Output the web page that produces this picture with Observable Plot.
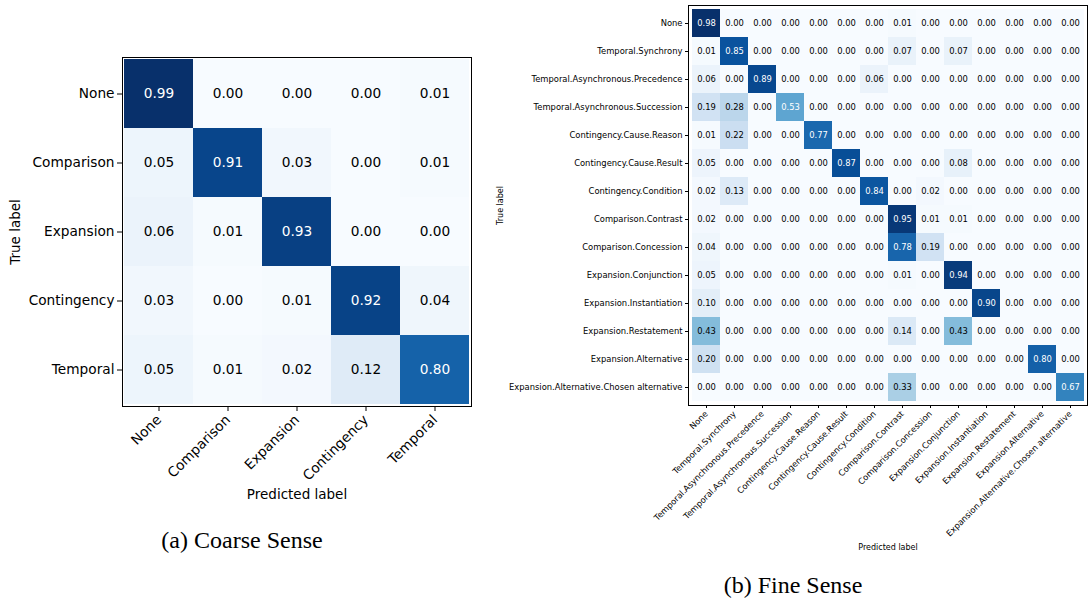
<!DOCTYPE html>
<html>
<head>
<meta charset="utf-8">
<script src="https://cdn.jsdelivr.net/npm/d3@7"></script>
<script src="https://cdn.jsdelivr.net/npm/@observablehq/plot@0.6"></script>
<style>
  html, body { margin: 0; padding: 0; background: white; }
  #wrap { position: relative; width: 1088px; height: 599px; background: white; overflow: hidden; }
  .panel { position: absolute; }
  .cap { position: absolute; font-family: "Liberation Serif", "Times New Roman", serif; font-size: 24px; line-height: 24px; text-align: center; color: black; white-space: nowrap; }
</style>
</head>
<body>
<div id="wrap">
  <div id="coarse" class="panel" style="left:0px; top:0px;"></div>
  <div id="fine" class="panel" style="left:490px; top:0px;"></div>
  <div class="cap" style="left:92px; width:300px; top:528px;">(a) Coarse Sense</div>
  <div class="cap" style="left:643px; width:300px; top:573px;">(b) Fine Sense</div>
</div>
<script>
// ---- Data ----
const coarseLabels = ["None", "Comparison", "Expansion", "Contingency", "Temporal"];
const coarseValues = [
  [0.99, 0.00, 0.00, 0.00, 0.01],
  [0.05, 0.91, 0.03, 0.00, 0.01],
  [0.06, 0.01, 0.93, 0.00, 0.00],
  [0.03, 0.00, 0.01, 0.92, 0.04],
  [0.05, 0.01, 0.02, 0.12, 0.80]
];

const fineLabels = [
  "None",
  "Temporal.Synchrony",
  "Temporal.Asynchronous.Precedence",
  "Temporal.Asynchronous.Succession",
  "Contingency.Cause.Reason",
  "Contingency.Cause.Result",
  "Contingency.Condition",
  "Comparison.Contrast",
  "Comparison.Concession",
  "Expansion.Conjunction",
  "Expansion.Instantiation",
  "Expansion.Restatement",
  "Expansion.Alternative",
  "Expansion.Alternative.Chosen alternative"
];
const fineValues = [
  [0.98, 0.00, 0.00, 0.00, 0.00, 0.00, 0.00, 0.01, 0.00, 0.00, 0.00, 0.00, 0.00, 0.00],
  [0.01, 0.85, 0.00, 0.00, 0.00, 0.00, 0.00, 0.07, 0.00, 0.07, 0.00, 0.00, 0.00, 0.00],
  [0.06, 0.00, 0.89, 0.00, 0.00, 0.00, 0.06, 0.00, 0.00, 0.00, 0.00, 0.00, 0.00, 0.00],
  [0.19, 0.28, 0.00, 0.53, 0.00, 0.00, 0.00, 0.00, 0.00, 0.00, 0.00, 0.00, 0.00, 0.00],
  [0.01, 0.22, 0.00, 0.00, 0.77, 0.00, 0.00, 0.00, 0.00, 0.00, 0.00, 0.00, 0.00, 0.00],
  [0.05, 0.00, 0.00, 0.00, 0.00, 0.87, 0.00, 0.00, 0.00, 0.08, 0.00, 0.00, 0.00, 0.00],
  [0.02, 0.13, 0.00, 0.00, 0.00, 0.00, 0.84, 0.00, 0.02, 0.00, 0.00, 0.00, 0.00, 0.00],
  [0.02, 0.00, 0.00, 0.00, 0.00, 0.00, 0.00, 0.95, 0.01, 0.01, 0.00, 0.00, 0.00, 0.00],
  [0.04, 0.00, 0.00, 0.00, 0.00, 0.00, 0.00, 0.78, 0.19, 0.00, 0.00, 0.00, 0.00, 0.00],
  [0.05, 0.00, 0.00, 0.00, 0.00, 0.00, 0.00, 0.01, 0.00, 0.94, 0.00, 0.00, 0.00, 0.00],
  [0.10, 0.00, 0.00, 0.00, 0.00, 0.00, 0.00, 0.00, 0.00, 0.00, 0.90, 0.00, 0.00, 0.00],
  [0.43, 0.00, 0.00, 0.00, 0.00, 0.00, 0.00, 0.14, 0.00, 0.43, 0.00, 0.00, 0.00, 0.00],
  [0.20, 0.00, 0.00, 0.00, 0.00, 0.00, 0.00, 0.00, 0.00, 0.00, 0.00, 0.00, 0.80, 0.00],
  [0.00, 0.00, 0.00, 0.00, 0.00, 0.00, 0.00, 0.33, 0.00, 0.00, 0.00, 0.00, 0.00, 0.67]
];

const blues9 = ["#f7fbff","#deebf7","#c6dbef","#9ecae1","#6baed6","#4292c6","#2171b5","#08519c","#08306b"];

function matrix(labels, values) {
  return values.flatMap((row, i) => row.map((v, j) => ({true: labels[i], pred: labels[j], v})));
}

function confusion({labels, values, width, height, margins, fontSize, labelFontSize, tickSize, xPad, predDy, trueDx}) {
  const data = matrix(labels, values);
  const max = d3.max(data, d => d.v);
  return Plot.plot({
    width, height,
    marginLeft: margins[0], marginTop: margins[1], marginRight: margins[2], marginBottom: margins[3],
    style: {fontFamily: "DejaVu Sans", fontSize: fontSize + "px", color: "black", background: "white", overflow: "visible"},
    x: {domain: labels, padding: 0, label: null},
    y: {domain: labels, padding: 0, label: null},
    color: {type: "linear", domain: d3.range(9).map(i => i * max / 8), range: blues9, interpolate: "rgb"},
    marks: [
      Plot.cell(data, {x: "pred", y: "true", fill: "v", inset: 0, shapeRendering: "crispEdges"}),
      Plot.text(data, {x: "pred", y: "true", text: d => d.v.toFixed(2), fill: d => d.v > max / 2 ? "white" : "black", fontSize}),
      Plot.frame({stroke: "black", strokeWidth: 1}),
      Plot.axisY({tickSize, tickPadding: 3, fontSize, label: null}),
      Plot.axisX({tickSize, tickPadding: xPad, tickRotate: -45, fontSize, label: null}),
      Plot.text(["Predicted label"], {frameAnchor: "bottom", dy: predDy, text: d => d, fontSize: labelFontSize, textAnchor: "middle", lineAnchor: "middle"}),
      Plot.text(["True label"], {frameAnchor: "left", dx: trueDx, rotate: -90, text: d => d, fontSize: labelFontSize, textAnchor: "middle", lineAnchor: "middle"})
    ]
  });
}

document.getElementById("coarse").appendChild(confusion({
  labels: coarseLabels, values: coarseValues,
  width: 480, height: 520, margins: [122, 57, 9, 114],
  fontSize: 13.7, labelFontSize: 13.5, tickSize: 5, xPad: 6, predDy: 88, trueDx: -107
}));

document.getElementById("fine").appendChild(confusion({
  labels: fineLabels, values: fineValues,
  width: 598, height: 565, margins: [198, 5, 1, 160],
  fontSize: 8.4, labelFontSize: 8, tickSize: 3, xPad: 4, predDy: 142, trueDx: -188
}));
</script>
</body>
</html>
